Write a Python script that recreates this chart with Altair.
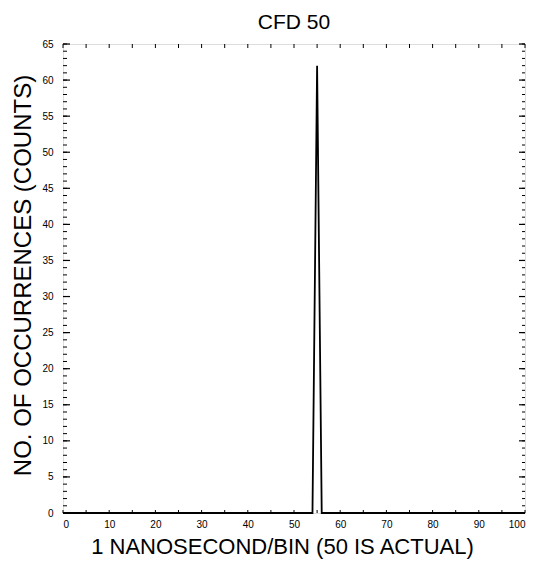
import altair as alt
import pandas as pd

# Histogram trace (bin, count)
trace_bins = [0, 54, 55, 56, 100]
trace_counts = [0, 0, 62, 0, 0]

# Axis tick values
y_major = list(range(0, 66, 5))
y_minor = list(range(0, 66, 1))
x_major = list(range(0, 101, 5))
x_labels = list(range(0, 101, 10))

W, H = 462, 469

trace = pd.DataFrame({"bin": trace_bins, "count": trace_counts})
ymaj = pd.DataFrame({"v": y_major})
ymin = pd.DataFrame({"v": y_minor})
xmaj = pd.DataFrame({"v": x_major})

xs = alt.Scale(domain=[0, 100], nice=False, zero=False)
ys = alt.Scale(domain=[0, 65], nice=False)

x_axis = alt.Axis(
    values=x_labels, ticks=False, domain=False, grid=False,
    labelFont="Liberation Sans", labelFontSize=10, labelPadding=6,
    labelColor="black", labelOverlap=False,
    title="1 NANOSECOND/BIN (50 IS ACTUAL)", titleFont="Liberation Sans",
    titleFontSize=22, titleFontWeight="normal", titleColor="black",
    titleX=219, titleY=40, titleBaseline="alphabetic")
y_axis = alt.Axis(
    values=y_major, ticks=False, domain=False, grid=False,
    labelFont="Liberation Sans", labelFontSize=10, labelPadding=10,
    labelColor="black", labelOverlap=False,
    title="NO. OF OCCURRENCES (COUNTS)", titleFont="Liberation Sans",
    titleFontSize=24, titleFontWeight="normal", titleColor="black",
    titleX=-33, titleY=231, titleBaseline="alphabetic")

line = alt.Chart(trace).mark_line(color="black", strokeWidth=1.8).encode(
    x=alt.X("bin:Q", scale=xs, axis=x_axis),
    y=alt.Y("count:Q", scale=ys, axis=y_axis),
)

left_major = alt.Chart(ymaj).mark_rule(color="black", strokeWidth=1.2).encode(
    y=alt.Y("v:Q", scale=ys, axis=y_axis), x=alt.value(0), x2=alt.value(7))
left_minor = alt.Chart(ymin).mark_rule(color="black", strokeWidth=1).encode(
    y=alt.Y("v:Q", scale=ys, axis=y_axis), x=alt.value(0), x2=alt.value(4))
right_major = alt.Chart(ymaj).mark_rule(color="black", strokeWidth=1.2).encode(
    y=alt.Y("v:Q", scale=ys, axis=y_axis), x=alt.value(W), x2=alt.value(W - 6))
right_minor = alt.Chart(ymin).mark_rule(color="black", strokeWidth=1).encode(
    y=alt.Y("v:Q", scale=ys, axis=y_axis), x=alt.value(W), x2=alt.value(W - 3))
top_ticks = alt.Chart(xmaj).mark_rule(color="black", strokeWidth=1).encode(
    x=alt.X("v:Q", scale=xs, axis=x_axis), y=alt.value(0), y2=alt.value(4))
bottom_ticks = alt.Chart(xmaj).mark_rule(color="black", strokeWidth=1).encode(
    x=alt.X("v:Q", scale=xs, axis=x_axis), y=alt.value(H), y2=alt.value(H - 3))

chart = alt.layer(
    line, left_minor, left_major, right_minor, right_major, top_ticks, bottom_ticks
).properties(
    width=W, height=H,
    title=alt.TitleParams("CFD 50", font="Liberation Sans", fontSize=21,
                          fontWeight="normal", color="black", offset=6),
    autosize=alt.AutoSizeParams(type="none"),
    padding={"left": 55, "top": 36, "right": 5, "bottom": 46},
).configure_view(stroke="black", strokeWidth=2).configure(background="white")

chart.save("out.html", embed_options={"renderer": "svg", "actions": False})
